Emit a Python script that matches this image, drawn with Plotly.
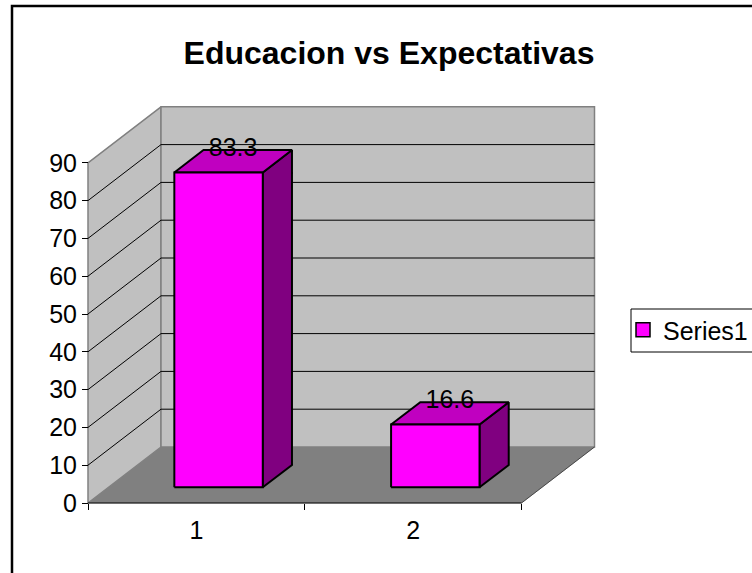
import plotly.graph_objects as go

# ---- data ----
categories = ["1", "2"]
series_name = "Series1"
values = [83.3, 16.6]
value_ticks = [0, 10, 20, 30, 40, 50, 60, 70, 80, 90]
chart_title = "Educacion vs Expectativas"

# ---- layout scale (figure pixels) ----
W, H = 752, 573
X0_PX, Y0_PX = 88.0, 503.0
CAT_PX = 216.75
UNIT_PX = 3.78
DX = 73.0 / CAT_PX        # full depth, in category units
DY = 56.0 / UNIT_PX       # full depth, in value units
BAR_W = 0.408
BAR_SHIFT = 0.008
BAR_D0, BAR_D1 = 0.28, 0.68  # bar's extent along the depth

FONT = "Liberation Sans"
WALL, FLOOR, EDGE = "#C0C0C0", "#808080", "#808080"
FRONT, TOP, SIDE = "#FF00FF", "#C000C0", "#800080"

fig = go.Figure()


def poly(xs, ys, fill, line, width):
    fig.add_trace(go.Scatter(
        x=xs + xs[:1], y=ys + ys[:1], mode="lines", fill="toself",
        fillcolor=fill, line=dict(color=line, width=width),
        hoverinfo="skip", showlegend=False))


def seg(xs, ys, color, width):
    fig.add_trace(go.Scatter(
        x=xs, y=ys, mode="lines", line=dict(color=color, width=width),
        hoverinfo="skip", showlegend=False))


n = len(categories)
vmax = value_ticks[-1]

# floor, walls
poly([0, n, n + DX, DX], [0, 0, DY, DY], FLOOR, FLOOR, 0.5)
poly([0, DX, DX, 0], [0, DY, DY + vmax, vmax], WALL, EDGE, 1.5)
poly([DX, n + DX, n + DX, DX], [DY, DY, DY + vmax, DY + vmax], WALL, EDGE, 1.5)

# gridlines
for t in value_ticks[1:-1]:
    seg([0, DX, n + DX], [t, t + DY, t + DY], "#000000", 1)

# base edges
seg([n, n + DX], [0, DY], "#303030", 0.8)
seg([0, n], [0, 0], "#000000", 1.2)

# bars
label_x, label_y = [], []
for i, v in enumerate(values):
    c = i + 0.5 + BAR_SHIFT
    x0 = c - BAR_W / 2 + BAR_D0 * DX
    x1 = x0 + BAR_W
    b = BAR_D0 * DY
    t = b + v
    ddx = (BAR_D1 - BAR_D0) * DX
    ddy = (BAR_D1 - BAR_D0) * DY
    poly([x1, x1 + ddx, x1 + ddx, x1], [b, b + ddy, t + ddy, t], SIDE, "#000000", 2)
    poly([x0, x1, x1 + ddx, x0 + ddx], [t, t, t + ddy, t + ddy], TOP, "#000000", 2)
    poly([x0, x1, x1, x0], [b, b, t, t], FRONT, "#000000", 2)
    label_x.append((x0 + x1 + ddx) / 2)
    label_y.append(t + ddy)

fig.add_trace(go.Scatter(
    x=label_x, y=label_y, mode="text",
    text=[str(v) for v in values], textposition="middle center",
    textfont=dict(family=FONT, size=25, color="#000000"),
    hoverinfo="skip", showlegend=False, cliponaxis=False))

# legend entry
fig.add_trace(go.Scatter(
    x=[None], y=[None], mode="markers", name=series_name,
    marker=dict(symbol="square", size=14, color=FRONT,
                line=dict(color="#000000", width=1.5))))

fig.update_layout(
    width=W, height=H,
    autosize=False,
    margin=dict(l=0, r=0, t=0, b=0, autoexpand=False),
    paper_bgcolor="#FFFFFF", plot_bgcolor="rgba(0,0,0,0)",
    font=dict(family=FONT, size=25, color="#000000"),
    title=dict(text="<b>" + chart_title + "</b>", x=389 / W, xanchor="center",
               xref="paper", yref="paper", y=1 - 53 / H, yanchor="middle",
               font=dict(family=FONT, size=32, color="#000000")),
    showlegend=True,
    legend=dict(x=623 / W, xanchor="left", y=1 - 330 / H, yanchor="middle",
                bgcolor="rgba(0,0,0,0)", borderwidth=0,
                font=dict(family=FONT, size=25)),
    xaxis=dict(
        range=[-X0_PX / CAT_PX, (W - X0_PX) / CAT_PX],
        domain=[0, 1], anchor="free", position=(H - Y0_PX) / H,
        showgrid=False, zeroline=False, showline=False, fixedrange=True,
        tickmode="array",
        tickvals=[i + 0.5 for i in range(n)], ticktext=categories,
        ticks="", ticklabelstandoff=10,
        minor=dict(tickmode="array", tickvals=list(range(n + 1)),
                   ticks="outside", ticklen=6, tickcolor="#000000", tickwidth=1),
        tickfont=dict(family=FONT, size=25),
    ),
    yaxis=dict(
        range=[-(H - Y0_PX) / UNIT_PX, Y0_PX / UNIT_PX],
        domain=[0, 1], anchor="free", position=X0_PX / W,
        showgrid=False, zeroline=False, showline=False, fixedrange=True,
        tickmode="array", tickvals=value_ticks,
        ticks="outside", ticklen=6, tickcolor="#000000", tickwidth=1,
        tickfont=dict(family=FONT, size=25),
    ),
    shapes=[
        dict(type="rect", xref="paper", yref="paper", layer="below",
             x0=631 / W, x1=1.1, y0=1 - 352 / H, y1=1 - 309 / H,
             line=dict(color="#000000", width=1), fillcolor="#FFFFFF"),
        dict(type="rect", xref="paper", yref="paper", layer="below",
             x0=12 / W, x1=1.1, y0=-0.1, y1=1 - 6 / H,
             line=dict(color="#000000", width=2.5), fillcolor="rgba(0,0,0,0)"),
    ],
)

fig.write_html("out.html", include_plotlyjs=True,
               config={"displayModeBar": False},
               post_script="document.body.style.margin='0';document.body.style.overflow='hidden';")
